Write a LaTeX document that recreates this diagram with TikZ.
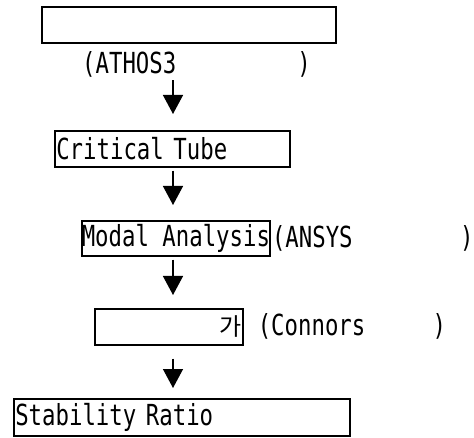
\documentclass[tikz,border=0pt]{standalone}
\usepackage{fontspec}
\newfontfamily\flowfont[FakeStretch=0.77]{DejaVu Sans Mono}
\newfontfamily\kofont{Noto Sans CJK KR}
\usepackage{tikz}
\usetikzlibrary{arrows.meta, positioning}

\begin{document}
\begin{tikzpicture}[
    x=1pt, y=-1pt,
    stagebox/.style={rectangle, draw, line width=1.6pt, inner xsep=1.5pt, inner ysep=0pt, anchor=north west, font=\flowfont\fontsize{29}{32}\selectfont},
    note/.style={inner sep=0pt, font=\flowfont\fontsize{29}{32}\selectfont},
    flow/.style={-{Triangle[width=20pt, length=19pt]}, line width=1.4pt}
]
\useasboundingbox (0,0) rectangle (474,438);

% stages, top to bottom
\node[stagebox, minimum width=294pt, minimum height=36pt] (input) at (41,6) {};
\node[note, anchor=west] (athos) at (82,64) {(ATHOS3~~~~~~~~~)};

\node[stagebox, minimum width=235pt, minimum height=36pt, text width=232pt, align=left] (tube) at (54,130) {Critical Tube};

\node[stagebox, minimum width=183pt, minimum height=35pt, inner xsep=0pt] (modal) at (81,220) {Modal Analysis};
\node[note, anchor=west, xshift=1pt] (ansys) at (modal.east) {(ANSYS~~~~~~~~)};

\node[stagebox, minimum width=148pt, minimum height=36pt, text width=145pt, align=right] (fluidel) at (94,308) {{\kofont\fontsize{24}{30}\selectfont 가}};
\node[note, anchor=west, xshift=14pt] (connors) at (fluidel.east) {(Connors~~~~~)};

\node[stagebox, minimum width=336pt, minimum height=37pt, text width=333pt, align=left] (ratio) at (13,398) {Stability Ratio};

% arrows down the spine
\coordinate (spine) at (173,0);
\draw[flow, shorten <=3pt, shorten >=16pt] (athos.south -| spine) -- (tube.north -| spine);
\draw[flow, shorten <=3pt, shorten >=15pt] (tube.south -| spine) -- (modal.north -| spine);
\draw[flow, shorten <=3pt, shorten >=13pt] (modal.south -| spine) -- (fluidel.north -| spine);
\draw[flow, shorten <=13pt, shorten >=10pt] (fluidel.south -| spine) -- (ratio.north -| spine);

\end{tikzpicture}
\end{document}
